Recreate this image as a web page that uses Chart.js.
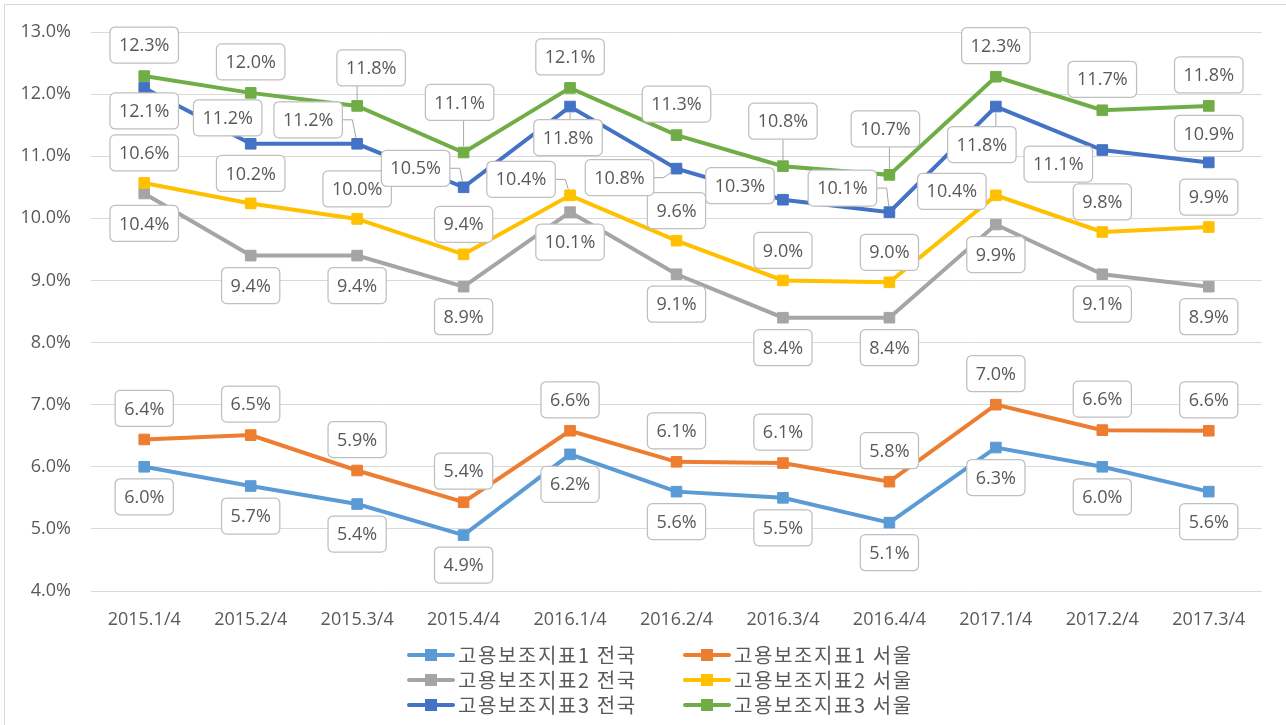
<!DOCTYPE html>
<html lang="ko">
<head>
<meta charset="utf-8">
<title>고용보조지표</title>
<script src="https://cdn.jsdelivr.net/npm/chart.js@4.4.1/dist/chart.umd.min.js"></script>
<style>
    html, body { margin: 0; padding: 0; background: #fff; }
    #wrap { width: 1286px; height: 725px; }
</style>
</head>
<body>
<div id="wrap"><canvas id="myChart" width="1286" height="725"></canvas></div>
<script>
const QUARTERS = ['2015.1/4', '2015.2/4', '2015.3/4', '2015.4/4', '2016.1/4', '2016.2/4',
    '2016.3/4', '2016.4/4', '2017.1/4', '2017.2/4', '2017.3/4'];

const SERIES_NAMES = ['고용보조지표1 전국', '고용보조지표1 서울', '고용보조지표2 전국',
    '고용보조지표2 서울', '고용보조지표3 전국', '고용보조지표3 서울'];

const IDX1_NATION = [6.0, 5.69, 5.4, 4.9, 6.2, 5.6, 5.5, 5.1, 6.31, 6.0, 5.6];
const IDX1_SEOUL = [6.44, 6.51, 5.94, 5.43, 6.58, 6.08, 6.06, 5.76, 7.0, 6.59, 6.58];
const IDX2_NATION = [10.4, 9.4, 9.4, 8.9, 10.1, 9.1, 8.4, 8.4, 9.9, 9.1, 8.9];
const IDX2_SEOUL = [10.57, 10.24, 9.99, 9.42, 10.37, 9.64, 9.0, 8.97, 10.37, 9.78, 9.86];
const IDX3_NATION = [12.1, 11.2, 11.2, 10.5, 11.8, 10.8, 10.3, 10.1, 11.8, 11.1, 10.9];
const IDX3_SEOUL = [12.29, 12.02, 11.81, 11.06, 12.1, 11.34, 10.84, 10.7, 12.28, 11.74, 11.81];

const Y_MIN = 4;
const Y_MAX = 13;
const Y_STEP = 1;

const COLORS = ['#5B9BD5', '#ED7D31', '#A5A5A5', '#FFC000', '#4472C4', '#70AD47'];
const TEXT_COLOR = '#595959';
const NUM_FONT = '"Open Sans", "Noto Sans CJK KR", sans-serif';
const KR_FONT = '"Noto Sans CJK KR", sans-serif';

// label boxes: default vertical shift per series, plus the ones moved by hand (dx, dy, leader line)
const LABEL_DY = [30, -31, 30, -30, 30, -31];
const LABEL_MOVED = {
    '3:4': [-49, -16, true],
    '3:8': [-44, -4, false],
    '4:0': [0, 23, false],
    '4:1': [-23, -26, false],
    '4:2': [-49, -24, true],
    '4:3': [-48, -19, true],
    '4:4': [-2, 31, true],
    '4:5': [-57, 9, true],
    '4:6': [-43, -14, false],
    '4:7': [-47, -24, true],
    '4:8': [-14, 38, true],
    '4:9': [-44, 14, false],
    '4:10': [0, -29, false],
    '5:2': [14, -38, true],
    '5:3': [-4, -50, true],
    '5:6': [0, -45, true],
    '5:7': [-4, -46, true],
};

const seriesValues = [IDX1_NATION, IDX1_SEOUL, IDX2_NATION, IDX2_SEOUL, IDX3_NATION, IDX3_SEOUL];

function drawLeader(ctx, l, t, w, h, px, py) {
    const r = l + w, b = t + h, cy = t + h / 2;
    let sx, sy;
    ctx.beginPath();
    if (px > r) {
        ctx.moveTo(r, cy);
        sx = Math.min(r + 10, px); sy = cy;
        ctx.lineTo(sx, sy);
    } else if (px < l) {
        ctx.moveTo(l, cy);
        sx = Math.max(l - 10, px); sy = cy;
        ctx.lineTo(sx, sy);
    } else {
        sx = px; sy = py < t ? t : b;
        ctx.moveTo(sx, sy);
    }
    const len = Math.hypot(px - sx, py - sy);
    const k = len > 6 ? (len - 6) / len : 0;
    ctx.lineTo(sx + (px - sx) * k, sy + (py - sy) * k);
    ctx.stroke();
}

const valueLabels = {
    id: 'valueLabels',
    afterDatasetsDraw(chart) {
        const ctx = chart.ctx;
        ctx.save();
        ctx.font = '18px ' + NUM_FONT;
        ctx.textAlign = 'center';
        ctx.textBaseline = 'middle';
        chart.data.datasets.forEach((ds, s) => {
            const meta = chart.getDatasetMeta(s);
            meta.data.forEach((pt, i) => {
                const text = ds.data[i].toFixed(1) + '%';
                const place = LABEL_MOVED[s + ':' + i] || [0, LABEL_DY[s], false];
                const w = ctx.measureText(text).width + 18;
                const h = 36;
                const cx = pt.x + place[0];
                const cy = pt.y + place[1];
                const l = cx - w / 2, t = cy - h / 2;
                if (place[2]) {
                    ctx.strokeStyle = '#A6A6A6';
                    ctx.lineWidth = 1;
                    drawLeader(ctx, l, t, w, h, pt.x, pt.y);
                }
                ctx.beginPath();
                ctx.roundRect(l, t, w, h, 5);
                ctx.fillStyle = '#ffffff';
                ctx.fill();
                ctx.strokeStyle = '#BFBFBF';
                ctx.lineWidth = 1.25;
                ctx.stroke();
                ctx.fillStyle = TEXT_COLOR;
                ctx.fillText(text, cx, cy + 1);
            });
        });
        ctx.restore();
    }
};

const twoColLegend = {
    id: 'twoColLegend',
    afterDraw(chart) {
        const ctx = chart.ctx;
        const top = chart.scales.x.bottom;
        ctx.save();
        ctx.font = '20px ' + KR_FONT;
        ctx.textAlign = 'left';
        ctx.textBaseline = 'middle';
        chart.data.datasets.forEach((ds, s) => {
            const x0 = chart.width / 2 - 236 + (s % 2) * 276;
            const y = top + 24 + Math.floor(s / 2) * 25;
            ctx.strokeStyle = ds.borderColor;
            ctx.lineWidth = 4;
            ctx.lineCap = 'round';
            ctx.beginPath();
            ctx.moveTo(x0 + 2, y);
            ctx.lineTo(x0 + 46, y);
            ctx.stroke();
            ctx.fillStyle = ds.borderColor;
            ctx.fillRect(x0 + 18, y - 6, 12, 12);
            ctx.fillStyle = TEXT_COLOR;
            ctx.letterSpacing = '1.6px';
            ctx.fillText(ds.label, x0 + 51, y);
            ctx.letterSpacing = '0px';
        });
        ctx.restore();
    }
};

const frame = {
    id: 'frame',
    beforeDraw(chart) {
        const ctx = chart.ctx;
        ctx.save();
        ctx.fillStyle = '#ffffff';
        ctx.fillRect(0, 0, chart.width, chart.height);
        ctx.strokeStyle = '#D9D9D9';
        ctx.lineWidth = 1;
        ctx.strokeRect(4.5, 4.5, chart.width + 10, chart.height + 10);
        ctx.restore();
    }
};

const datasets = SERIES_NAMES.map((name, s) => ({
    label: name,
    data: seriesValues[s],
    borderColor: COLORS[s],
    backgroundColor: COLORS[s],
    borderWidth: 4,
    tension: 0,
    pointStyle: 'rect',
    pointRadius: 7.5,
    pointBorderWidth: 1,
    pointBackgroundColor: COLORS[s],
    pointBorderColor: COLORS[s],
    order: SERIES_NAMES.length - s,
}));

new Chart(document.getElementById('myChart'), {
    type: 'line',
    data: { labels: QUARTERS, datasets: datasets },
    options: {
        responsive: false,
        animation: false,
        layout: { padding: { top: 32, right: 24, bottom: 94, left: 0 } },
        plugins: {
            legend: { display: false },
            tooltip: { enabled: false },
        },
        scales: {
            x: {
                offset: true,
                grid: { display: false },
                border: { display: false },
                ticks: {
                    color: TEXT_COLOR,
                    font: { family: NUM_FONT, size: 18 },
                    padding: 10,
                    maxRotation: 0,
                    autoSkip: false,
                },
                afterFit(scale) { scale.height = 40; },
            },
            y: {
                min: Y_MIN,
                max: Y_MAX,
                ticks: {
                    stepSize: Y_STEP,
                    color: TEXT_COLOR,
                    font: { family: NUM_FONT, size: 18 },
                    padding: 20,
                    callback: (v) => Number(v).toFixed(1) + '%',
                },
                grid: { color: '#D9D9D9', lineWidth: 1, drawTicks: false },
                border: { display: false },
                afterFit(scale) { scale.width = 91; },
            },
        },
    },
    plugins: [frame, valueLabels, twoColLegend],
});
</script>
</body>
</html>
